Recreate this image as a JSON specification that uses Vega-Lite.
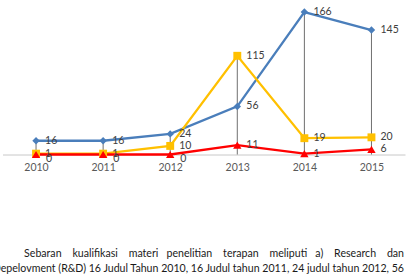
{
  "$schema": "https://vega.github.io/schema/vega-lite/v6.json",
  "width": 402.5,
  "height": 154.5,
  "autosize": {"type": "none"},
  "padding": {"left": 2.5, "top": 0, "right": 2, "bottom": 119.5},
  "background": "white",
  "config": {
    "font": "Lato",
    "view": {"stroke": null}
  },
  "title": {
    "text": [
      "Sebaran\u00a0\u00a0\u00a0 kualifikasi\u00a0\u00a0\u00a0 materi\u00a0\u00a0 penelitian\u00a0\u00a0\u00a0 terapan\u00a0\u00a0\u00a0 meliputi\u00a0\u00a0 a)\u00a0\u00a0\u00a0 Research\u00a0\u00a0\u00a0 dan",
      "Depelovment (R&D) 16 Judul Tahun 2010, 16 Judul tahun 2011, 24 judul tahun 2012, 56"
    ],
    "orient": "bottom",
    "anchor": "end",
    "align": "right",
    "frame": "group",
    "dx": -1,
    "offset": 76,
    "fontSize": 10.6,
    "fontWeight": "normal",
    "color": "#1a1a1a",
    "lineHeight": 14.5,
    "baseline": "top"
  },
  "data": {
    "values": [
      {"year": "2010", "series": "Seri 1", "value": 16},
      {"year": "2011", "series": "Seri 1", "value": 16},
      {"year": "2012", "series": "Seri 1", "value": 24},
      {"year": "2013", "series": "Seri 1", "value": 56},
      {"year": "2014", "series": "Seri 1", "value": 166},
      {"year": "2015", "series": "Seri 1", "value": 145},
      {"year": "2010", "series": "Seri 2", "value": 1},
      {"year": "2011", "series": "Seri 2", "value": 1},
      {"year": "2012", "series": "Seri 2", "value": 10},
      {"year": "2013", "series": "Seri 2", "value": 115},
      {"year": "2014", "series": "Seri 2", "value": 19},
      {"year": "2015", "series": "Seri 2", "value": 20},
      {"year": "2010", "series": "Seri 3", "value": 0},
      {"year": "2011", "series": "Seri 3", "value": 0},
      {"year": "2012", "series": "Seri 3", "value": 0},
      {"year": "2013", "series": "Seri 3", "value": 11},
      {"year": "2014", "series": "Seri 3", "value": 1},
      {"year": "2015", "series": "Seri 3", "value": 6}
    ]
  },
  "encoding": {
    "x": {
      "field": "year",
      "type": "ordinal",
      "scale": {"type": "point", "padding": 0.5},
      "axis": {
        "title": null,
        "labelAngle": 0,
        "labelFontSize": 10.5,
        "labelColor": "#595959",
        "labelPadding": 8,
        "ticks": false,
        "domainColor": "#c8c8c8",
        "domainWidth": 1,
        "grid": false
      }
    }
  },
  "layer": [
    {
      "mark": {"type": "rule", "color": "#6f6f6f", "strokeWidth": 1},
      "encoding": {
        "y": {"aggregate": "max", "field": "value", "type": "quantitative", "scale": {"domain": [0, 178]}, "axis": null},
        "y2": {"datum": 0}
      }
    },
    {
      "mark": {"type": "line", "strokeWidth": 2.3},
      "encoding": {
        "y": {"field": "value", "type": "quantitative", "scale": {"domain": [0, 178]}, "axis": null},
        "color": {
          "field": "series",
          "type": "nominal",
          "scale": {"domain": ["Seri 1", "Seri 2", "Seri 3"], "range": ["#4a7ebb", "#ffc000", "#ff0000"]},
          "legend": null
        },
        "order": {"field": "year"}
      }
    },
    {
      "mark": {"type": "point", "filled": true, "opacity": 1},
      "encoding": {
        "y": {"field": "value", "type": "quantitative", "axis": null},
        "color": {"field": "series", "type": "nominal", "legend": null},
        "shape": {
          "field": "series",
          "type": "nominal",
          "scale": {"domain": ["Seri 1", "Seri 2", "Seri 3"], "range": ["diamond", "square", "triangle-up"]},
          "legend": null
        },
        "size": {
          "field": "series",
          "type": "nominal",
          "scale": {"domain": ["Seri 1", "Seri 2", "Seri 3"], "range": [55, 70, 80]},
          "legend": null
        }
      }
    },
    {
      "transform": [{"filter": "!(datum.series === 'Seri 3' && datum.value === 0)"}],
      "mark": {"type": "text", "align": "left", "baseline": "middle", "dx": 9, "fontSize": 10.5, "color": "#404040"},
      "encoding": {
        "y": {"field": "value", "type": "quantitative", "axis": null},
        "text": {"field": "value", "type": "quantitative"}
      }
    },
    {
      "transform": [{"filter": "datum.series === 'Seri 3' && datum.value === 0"}],
      "mark": {"type": "text", "align": "left", "baseline": "middle", "dx": 10, "dy": 4, "fontSize": 10.5, "color": "#404040"},
      "encoding": {
        "y": {"field": "value", "type": "quantitative", "axis": null},
        "text": {"field": "value", "type": "quantitative"}
      }
    }
  ]
}
